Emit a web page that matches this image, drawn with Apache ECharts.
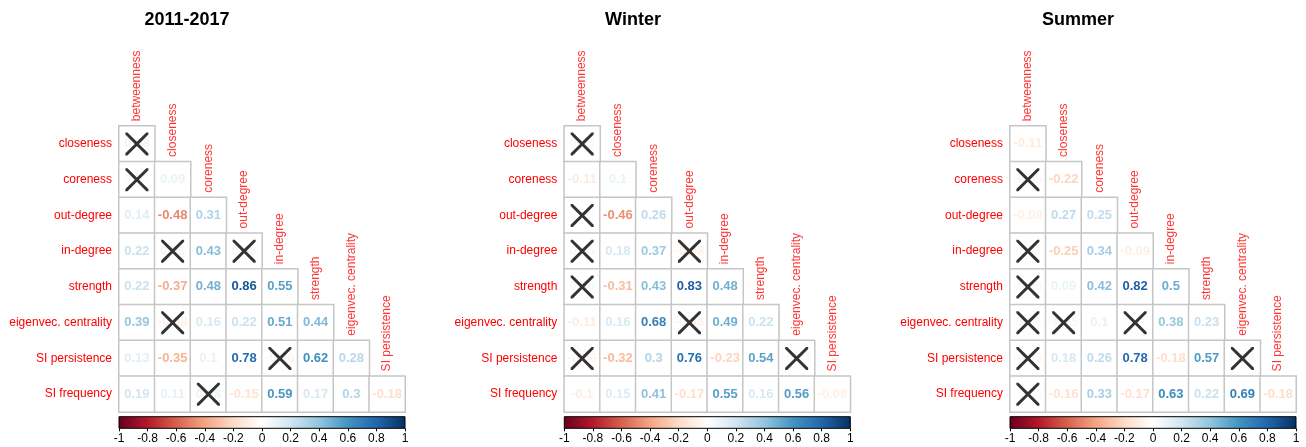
<!DOCTYPE html>
<html>
<head>
<meta charset="utf-8">
<script src="https://cdn.jsdelivr.net/npm/echarts@6/dist/echarts.min.js"></script>
<style>
  html, body { margin: 0; padding: 0; background: #fff; }
  #chart { width: 1306px; height: 447px; }
</style>
</head>
<body>
<div id="chart"></div>
<script>
(function() {
  'use strict';

  var panelTitles = ['2011-2017', 'Winter', 'Summer'];
  var columnNames = ['betweenness', 'closeness', 'coreness', 'out-degree', 'in-degree', 'strength', 'eigenvec. centrality', 'SI persistence'];
  var rowNames = ['closeness', 'coreness', 'out-degree', 'in-degree', 'strength', 'eigenvec. centrality', 'SI persistence', 'SI frequency'];

  // lower triangle, row i has i+1 values (values under the crosses are estimates)
  var corrAll = [
    [0.08],
    [0.03, 0.09],
    [0.14, -0.48, 0.31],
    [0.22, 0.06, 0.43, 0.06],
    [0.22, -0.37, 0.48, 0.86, 0.55],
    [0.39, -0.08, 0.16, 0.22, 0.51, 0.44],
    [0.13, -0.35, 0.1, 0.78, -0.06, 0.62, 0.28],
    [0.19, 0.11, 0.08, -0.15, 0.59, 0.17, 0.3, -0.18]
  ];
  var corrWinter = [
    [0.05],
    [-0.11, 0.1],
    [0.03, -0.46, 0.26],
    [0.05, 0.18, 0.37, -0.08],
    [0.06, -0.31, 0.43, 0.83, 0.48],
    [-0.11, 0.16, 0.68, -0.06, 0.49, 0.22],
    [-0.06, -0.32, 0.3, 0.76, -0.23, 0.54, -0.04],
    [-0.1, 0.15, 0.41, -0.17, 0.55, 0.16, 0.56, -0.08]
  ];
  var corrSummer = [
    [-0.11],
    [-0.05, -0.22],
    [-0.08, 0.27, 0.25],
    [0.03, -0.25, 0.34, -0.09],
    [-0.05, 0.09, 0.42, 0.82, 0.5],
    [0.04, -0.05, 0.1, 0.01, 0.38, 0.23],
    [-0.05, 0.18, 0.26, 0.78, -0.18, 0.57, 0.04],
    [-0.03, -0.16, 0.33, -0.17, 0.63, 0.22, 0.69, -0.18]
  ];

  // 1 = not significant (crossed out)
  var insigAll = [
    [1],
    [1, 0],
    [0, 0, 0],
    [0, 1, 0, 1],
    [0, 0, 0, 0, 0],
    [0, 1, 0, 0, 0, 0],
    [0, 0, 0, 0, 1, 0, 0],
    [0, 0, 1, 0, 0, 0, 0, 0]
  ];
  var insigWinter = [
    [1],
    [0, 0],
    [1, 0, 0],
    [1, 0, 0, 1],
    [1, 0, 0, 0, 0],
    [0, 0, 0, 1, 0, 0],
    [1, 0, 0, 0, 0, 0, 1],
    [0, 0, 0, 0, 0, 0, 0, 0]
  ];
  var insigSummer = [
    [0],
    [1, 0],
    [0, 0, 0],
    [1, 0, 0, 0],
    [1, 0, 0, 0, 0],
    [1, 1, 0, 1, 0, 0],
    [1, 0, 0, 0, 0, 0, 1],
    [1, 0, 0, 0, 0, 0, 0, 0]
  ];

  var colorbarMin = -1;
  var colorbarMax = 1;
  var colorbarStep = 0.2;

  var panels = [
    { corr: corrAll, insig: insigAll },
    { corr: corrWinter, insig: insigWinter },
    { corr: corrSummer, insig: insigSummer }
  ];

  var fontFamily = '"Liberation Sans", Arial, Helvetica, sans-serif';
  var rdbu = ['#67001F', '#B2182B', '#D6604D', '#F4A582', '#FDDBC7', '#FFFFFF', '#D1E5F0', '#92C5DE', '#4393C3', '#2166AC', '#053061'];

  function hexToRgb(h) {
    return [parseInt(h.substr(1, 2), 16), parseInt(h.substr(3, 2), 16), parseInt(h.substr(5, 2), 16)];
  }
  function corrColor(v) {
    var t = (v + 1) / 2 * (rdbu.length - 1);
    var i = Math.min(rdbu.length - 2, Math.max(0, Math.floor(t)));
    var f = t - i;
    var a = hexToRgb(rdbu[i]), b = hexToRgb(rdbu[i + 1]);
    var c = a.map(function(x, k) { return Math.round(x + (b[k] - x) * f); });
    return 'rgb(' + c.join(',') + ')';
  }

  var crossPath = 'path://M0,0L9,0L50,41L91,0L100,0L100,9L59,50L100,91L100,100L91,100L50,59L9,100L0,100L0,91L41,50L0,9Z';

  var panelLefts = [119, 564.3, 1010];
  var titleCenters = [182, 628, 1073];
  var cell = 35.75;
  var gridTop = 126 - cell;

  var grids = [], xAxes = [], yAxes = [], series = [], titles = [];

  panels.forEach(function(panel, p) {
    titles.push({
      text: panelTitles[p],
      left: titleCenters[p],
      top: 6,
      textAlign: 'center',
      textStyle: { fontFamily: fontFamily, fontSize: 18, fontWeight: 'bold', color: '#000' }
    });

    grids.push({ left: panelLefts[p], top: gridTop, width: cell * 8, height: cell * 9 });
    xAxes.push({ type: 'category', gridIndex: p, data: columnNames, show: false });
    yAxes.push({
      type: 'category',
      gridIndex: p,
      data: [''].concat(rowNames),
      inverse: true,
      axisLine: { show: false },
      axisTick: { show: false },
      splitLine: { show: false },
      axisLabel: { color: '#ff0000', fontSize: 12, fontFamily: fontFamily, margin: 7 }
    });

    var cells = [], crosses = [];
    panel.corr.forEach(function(row, i) {
      row.forEach(function(v, j) {
        cells.push({ value: [j, i + 1, v], label: { color: corrColor(v) } });
        if (panel.insig[i][j]) crosses.push([j, i + 1]);
      });
    });

    series.push({
      type: 'heatmap',
      xAxisIndex: p,
      yAxisIndex: p,
      data: cells,
      itemStyle: { color: '#ffffff', borderColor: '#c6c6c6', borderWidth: 1.5 },
      label: {
        show: true,
        fontFamily: fontFamily,
        fontSize: 13,
        fontWeight: 'bold',
        formatter: function(d) { return String(d.value[2]); }
      },
      emphasis: { disabled: true },
      silent: true
    });

    series.push({
      type: 'scatter',
      xAxisIndex: p,
      yAxisIndex: p,
      z: 5,
      symbol: crossPath,
      symbolSize: 23,
      itemStyle: { color: '#000' },
      data: crosses,
      silent: true
    });

    series.push({
      type: 'scatter',
      xAxisIndex: p,
      yAxisIndex: p,
      symbolSize: 1,
      itemStyle: { color: 'rgba(0,0,0,0)' },
      data: columnNames.map(function(name, j) { return { name: name, value: [j, j] }; }),
      label: {
        show: true,
        formatter: '{b}',
        position: [0.5, 13.5],
        rotate: 90,
        align: 'left',
        verticalAlign: 'middle',
        color: '#ff0000',
        fontSize: 12,
        fontFamily: fontFamily
      },
      silent: true
    });
  });

  // colour bars
  panels.forEach(function(panel, p) {
    var g = 3 + p;
    grids.push({
      left: panelLefts[p],
      top: 416.7,
      width: cell * 8,
      height: 11.6,
      show: true,
      borderColor: '#000',
      borderWidth: 1,
      backgroundColor: new echarts.graphic.LinearGradient(0, 0, 1, 0, rdbu.map(function(c, i) {
        return { offset: i / (rdbu.length - 1), color: c };
      }))
    });
    xAxes.push({
      type: 'value',
      gridIndex: g,
      min: colorbarMin,
      max: colorbarMax,
      interval: colorbarStep,
      position: 'bottom',
      axisLine: { show: false },
      axisTick: { show: true, length: 3, lineStyle: { color: '#000', width: 1 } },
      splitLine: { show: false },
      axisLabel: { color: '#000', fontSize: 12, fontFamily: fontFamily, margin: 4 }
    });
    yAxes.push({ type: 'value', gridIndex: g, min: 0, max: 1, show: false });
  });

  var chart = echarts.init(document.getElementById('chart'));
  chart.setOption({
    animation: false,
    backgroundColor: '#ffffff',
    title: titles,
    grid: grids,
    xAxis: xAxes,
    yAxis: yAxes,
    series: series
  });
})();
</script>
</body>
</html>
